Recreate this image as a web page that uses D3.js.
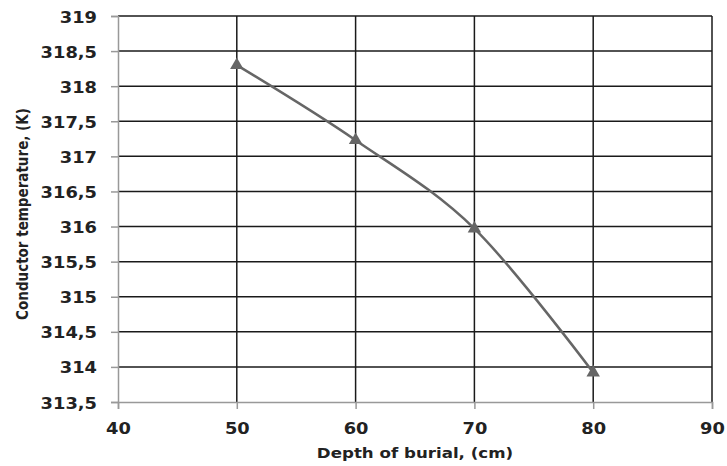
<!DOCTYPE html>
<html>
<head>
<meta charset="utf-8">
<script src="https://cdn.jsdelivr.net/npm/d3@7"></script>
<style>
  body { margin: 0; background: #fff; }
  svg text { font-family: "DejaVu Sans", Verdana, sans-serif; font-weight: bold; fill: #222; }
</style>
</head>
<body>
<svg id="chart" width="727" height="466"></svg>
<script>
// depth of burial (cm) vs conductor temperature (K)
const depths = [50, 60, 70, 80];
const temps = [318.3, 317.23, 315.97, 313.92];
const xTicks = [40, 50, 60, 70, 80, 90];
const yTicks = [313.5, 314, 314.5, 315, 315.5, 316, 316.5, 317, 317.5, 318, 318.5, 319];

const svg = d3.select('#chart');
const plotL = 118, plotR = 712, plotT = 16, plotB = 402;
const stretch = 1.19; // the source text is a little wide

const x = d3.scaleLinear().domain([40, 90]).range([plotL, plotR]);
const y = d3.scaleLinear().domain([313.5, 319]).range([plotB, plotT]);
const fmt = (v) => String(v).replace('.', ',');

// grid
svg.append('g')
  .selectAll('line')
  .data(yTicks.slice(1))
  .join('line')
  .attr('x1', plotL).attr('x2', plotR)
  .attr('y1', (d) => y(d)).attr('y2', (d) => y(d))
  .attr('stroke', '#1a1a1a').attr('stroke-width', 1.5);

svg.append('g')
  .selectAll('line')
  .data(xTicks.slice(1))
  .join('line')
  .attr('x1', (d) => x(d)).attr('x2', (d) => x(d))
  .attr('y1', plotT).attr('y2', plotB)
  .attr('stroke', '#1a1a1a').attr('stroke-width', 1.5);

// axes
const yAxis = svg.append('g')
  .attr('transform', `translate(${plotL},0)`)
  .call(d3.axisLeft(y).tickValues(yTicks).tickFormat(fmt).tickSize(7));
const xAxis = svg.append('g')
  .attr('transform', `translate(0,${plotB})`)
  .call(d3.axisBottom(x).tickValues(xTicks).tickSize(7).tickPadding(14));
[yAxis, xAxis].forEach((a) => {
  a.select('.domain').attr('stroke', '#999').attr('stroke-width', 1.5);
  a.selectAll('.tick line').attr('stroke', '#999').attr('stroke-width', 1.5);
  a.selectAll('.tick text')
    .attr('font-size', 15)
    .attr('font-family', null)
    .attr('fill', '#222')
    .attr('transform', `scale(${stretch},1)`);
});
yAxis.selectAll('.tick text').attr('x', -21 / stretch).attr('dy', '0.4em');

// series
const pts = depths.map((d, i) => [d, temps[i]]);
svg.append('path')
  .datum(pts)
  .attr('fill', 'none')
  .attr('stroke', '#666')
  .attr('stroke-width', 2.5)
  .attr('d', d3.line().x((d) => x(d[0])).y((d) => y(d[1])).curve(d3.curveCardinal.tension(0)));

svg.append('g')
  .selectAll('path')
  .data(pts)
  .join('path')
  .attr('transform', (d) => `translate(${x(d[0])},${y(d[1])})`)
  .attr('d', d3.symbol(d3.symbolTriangle, 78))
  .attr('fill', '#666');

// titles
svg.append('text')
  .attr('transform', `translate(${(plotL + plotR) / 2},458) scale(${stretch},1)`)
  .attr('text-anchor', 'middle')
  .attr('font-size', 14)
  .text('Depth of burial, (cm)');

svg.append('text')
  .attr('transform', `translate(28,214) scale(${stretch},1) rotate(-90)`)
  .attr('text-anchor', 'middle')
  .attr('font-size', 13.5)
  .text('Conductor temperature, (K)');
</script>
</body>
</html>
